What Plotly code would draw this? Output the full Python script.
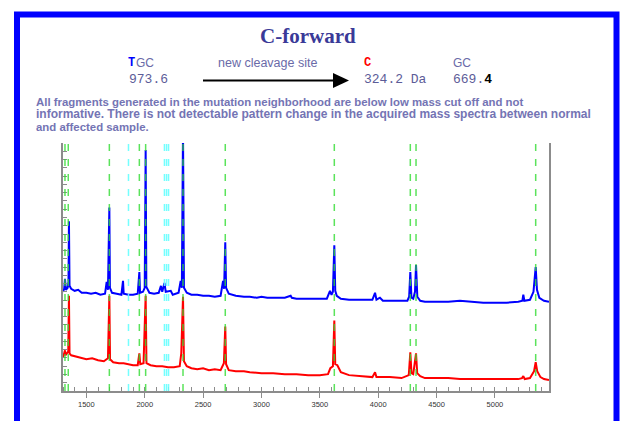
import plotly.graph_objects as go

# ---------------- data ----------------
blue_mass = [1300, 1310, 1317, 1325, 1340, 1347, 1351, 1356, 1370, 1400, 1430, 1460, 1500, 1540, 1580,
             1620, 1660, 1674, 1685, 1697, 1702, 1720, 1760, 1800, 1814, 1820, 1860, 1900, 1940, 1954,
             1960, 1985, 2000, 2008, 2014, 2040, 2080, 2120, 2139, 2150, 2169, 2180, 2223, 2240, 2290,
             2308, 2318, 2328, 2336, 2360, 2400, 2450, 2500, 2550, 2600, 2650, 2671, 2680, 2690, 2697,
             2720, 2780, 2850, 2900, 2960, 3000, 3050, 3100, 3150, 3200, 3250, 3260, 3300, 3350, 3400,
             3450, 3500, 3560, 3587, 3600, 3612, 3624, 3632, 3645, 3680, 3750, 3850, 3950, 3973, 3985,
             4015, 4040, 4100, 4150, 4200, 4250, 4265, 4275, 4285, 4300, 4315, 4324, 4335, 4360, 4400,
             4500, 4600, 4700, 4800, 4900, 5000, 5100, 5200, 5235, 5243, 5252, 5300, 5330, 5349, 5360,
             5380, 5420, 5463]
blue_int = [100, 103, 113, 102, 104, 110, 171, 106, 103, 101, 102, 99, 99, 98, 99,
            97, 98, 110, 102, 185, 104, 99, 98, 97, 111, 98, 97, 97, 98, 120,
            99, 100, 104, 243, 105, 99, 98, 99, 106, 100, 109, 100, 101, 97, 99,
            111, 104, 262, 104, 99, 97, 97, 96, 96, 95, 96, 111, 103, 150, 104,
            98, 96, 95, 95, 94, 95, 94, 94, 94, 94, 96, 94, 93, 93, 93,
            93, 93, 93, 101, 97, 100, 147, 101, 96, 93, 92, 92, 92, 99, 92,
            94, 91, 91, 91, 91, 91, 95, 120, 94, 93, 100, 127, 95, 91, 90,
            90, 90, 91, 90, 89, 89, 89, 90, 91, 97, 91, 92, 100, 125, 102,
            94, 91, 90]

red_mass = [1300, 1310, 1317, 1322, 1335, 1345, 1351, 1356, 1370, 1400, 1450, 1500, 1550, 1600, 1650,
            1685, 1697, 1703, 1730, 1780, 1820, 1860, 1900, 1940, 1954, 1962, 1990, 2008, 2015, 2050,
            2100, 2150, 2200, 2250, 2300, 2313, 2328, 2336, 2360, 2400, 2450, 2500, 2550, 2600, 2650,
            2678, 2690, 2697, 2720, 2780, 2850, 2900, 3000, 3100, 3200, 3300, 3400, 3500, 3570, 3590,
            3612, 3624, 3632, 3650, 3680, 3750, 3850, 3950, 3973, 3985, 4050, 4100, 4200, 4262, 4275,
            4285, 4300, 4324, 4334, 4360, 4400, 4500, 4600, 4700, 4800, 4900, 5000, 5100, 5200, 5232,
            5243, 5255, 5300, 5335, 5349, 5362, 5390, 5420, 5463]
red_int = [34, 37, 41, 36, 38, 40, 96, 38, 36, 35, 34, 32, 33, 31, 30,
           33, 96, 32, 29, 28, 28, 27, 26, 26, 38, 27, 28, 96, 28, 26,
           25, 25, 24, 24, 25, 38, 95, 30, 25, 23, 22, 23, 21, 22, 21,
           28, 65, 27, 21, 20, 20, 19, 18, 18, 17, 17, 16, 16, 17, 23,
           25, 71, 27, 26, 19, 16, 15, 14, 19, 14, 14, 14, 13, 16, 39,
           18, 17, 38, 18, 15, 13, 13, 13, 12, 12, 12, 12, 12, 12, 13,
           15, 12, 13, 20, 29, 20, 14, 12, 11]

# trace end markers (outside the axis frame)
marker_mass = [1240, 1240, 5600, 5600]
marker_int = [97, 33, 90, 10]
marker_col = ["#0000ff", "#ff0000", "#0000ff", "#ff0000"]

green_lines = [1317, 1345, 1697, 1954, 2008, 2328, 2690, 3624, 4275, 4324, 5349]
cyan_lines = [1861, 2169, 2187, 2204]

x_ticks = [1500, 2000, 2500, 3000, 3500, 4000, 4500, 5000]
x_range = [1300, 5463]
y_range = [0, 250]

# ---------------- layout helpers ----------------
W, H = 621, 421
L, R, T, B = 63, 549, 143, 393


def px(x):
    return (x - L) / (R - L)


def py(y):
    return (B - y) / (B - T)


fig = go.Figure()
fig.add_trace(go.Scatter(x=red_mass, y=red_int, mode="lines",
                         line=dict(color="#ff0000", width=2), showlegend=False))
fig.add_trace(go.Scatter(x=blue_mass, y=blue_int, mode="lines",
                         line=dict(color="#0000ff", width=2), showlegend=False))
fig.add_trace(go.Scatter(x=marker_mass, y=marker_int, mode="markers", cliponaxis=False,
                         marker=dict(color=marker_col, size=3, symbol="square"), showlegend=False))

shapes = []
for m in green_lines:
    shapes.append(dict(type="line", xref="x", yref="paper", x0=m, x1=m, y0=0, y1=1,
                       line=dict(color="#33dd33", width=1.5, dash="7px,8px"), opacity=0.8, layer="above"))
for m in cyan_lines:
    shapes.append(dict(type="line", xref="x", yref="paper", x0=m, x1=m, y0=0, y1=1,
                       line=dict(color="#66ffff", width=1.5, dash="7px,8px"), opacity=0.9, layer="above"))

# blue slide frame
shapes.append(dict(type="rect", xref="paper", yref="paper",
                   x0=px(17), x1=px(616.5), y0=py(445), y1=py(13.5),
                   line=dict(color="#0000ff", width=6), fillcolor="rgba(0,0,0,0)"))
# arrow
shapes.append(dict(type="line", xref="paper", yref="paper", x0=px(203), x1=px(336), y0=py(80), y1=py(80),
                   line=dict(color="#000000", width=2)))
shapes.append(dict(type="path", xref="paper", yref="paper",
                   path=f"M {px(333)},{py(72.5)} L {px(349)},{py(80)} L {px(333)},{py(87.5)} Z",
                   fillcolor="#000000", line=dict(color="#000000", width=0)))

SANS = "Liberation Sans, Arial, sans-serif"
MONO = "Liberation Mono, Courier New, monospace"
SERIF = "Liberation Serif, Times New Roman, serif"
LAB = "#6a6aa8"

ann = []


def text(t, x, y, size, color, family, anchor="left"):
    ann.append(dict(text=t, x=px(x), y=py(y), xref="paper", yref="paper", showarrow=False,
                    xanchor=anchor, yanchor="middle", font=dict(size=size, color=color, family=family)))


text("<b>C-forward</b>", 308, 35, 21, "#3a3a98", SERIF, "center")
text("<b>T</b>", 126, 62, 12, "#0000ff", MONO)
text("GC", 134, 62, 12, LAB, SANS)
text("973.6", 127, 79, 13, "#5c5c98", MONO)
text("new cleavage site", 216, 62, 12.5, LAB, SANS)
text("<b>C</b>", 362, 62, 12, "#ff0000", MONO)
text("324.2 Da", 362, 79, 13, "#5c5c98", MONO)
text("GC", 451, 62, 12, LAB, SANS)
text("669.<b><span style='color:#000000'>4</span></b>", 451, 79, 13, "#5c5c98", MONO)

para = ["All fragments generated in the mutation neighborhood are below low mass cut off and not",
        "informative. There is not detectable pattern change in the acquired mass spectra between normal",
        "and affected sample."]
para_size = [11.4, 12, 11.4]
para_y = [102, 114, 126.5]
for i, line in enumerate(para):
    text("<b>" + line + "</b>", 34, para_y[i], para_size[i], "#7474b4", SANS)

fig.update_layout(
    width=W, height=H,
    margin=dict(l=L, r=W - R, t=T, b=H - B, pad=0),
    paper_bgcolor="white", plot_bgcolor="white",
    shapes=shapes, annotations=ann, showlegend=False,
    xaxis=dict(range=x_range, tickvals=x_ticks, ticktext=[str(v) for v in x_ticks],
               showgrid=False, zeroline=False, showline=True, linecolor="#8c8c8c", linewidth=2,
               ticks="outside", ticklen=5, tickcolor="#8c8c8c", tickwidth=1,
               minor=dict(dtick=100, ticks="inside", ticklen=4, tickcolor="#8c8c8c", tickwidth=1, showgrid=False),
               tickfont=dict(size=7.5, color="#333333", family=SANS)),
    yaxis=dict(range=y_range, showgrid=False, zeroline=False, showline=True, linecolor="#8c8c8c",
               linewidth=2, mirror=True, ticks="inside", ticklen=4, tickcolor="#8c8c8c",
               dtick=8.33, tick0=0, showticklabels=False),
)

fig.write_html("out.html", config={"displayModeBar": False},
               post_script="document.body.style.margin='0';document.body.style.padding='0';")
